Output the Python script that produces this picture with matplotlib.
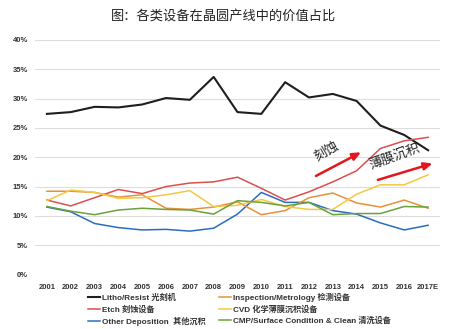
import matplotlib
matplotlib.use("Agg")
import matplotlib.pyplot as plt

years = ["2001", "2002", "2003", "2004", "2005", "2006", "2007", "2008", "2009",
         "2010", "2011", "2012", "2013", "2014", "2015", "2016", "2017E"]

litho = [27.4, 27.7, 28.6, 28.5, 29.0, 30.1, 29.8, 33.7, 27.7, 27.4, 32.8, 30.2, 30.8, 29.6, 25.4, 23.8, 21.2]
etch = [12.7, 11.7, 13.1, 14.5, 13.8, 15.0, 15.6, 15.8, 16.6, 14.7, 12.7, 14.1, 15.8, 17.7, 21.5, 22.8, 23.4]
other_dep = [11.5, 10.7, 8.7, 8.0, 7.6, 7.7, 7.4, 7.9, 10.3, 14.0, 12.3, 12.3, 10.9, 10.3, 8.8, 7.6, 8.4]
inspection = [14.2, 14.2, 14.0, 13.2, 13.6, 11.3, 11.1, 11.5, 12.4, 10.2, 10.9, 13.1, 13.9, 12.2, 11.5, 12.7, 11.3]
cvd = [12.6, 14.4, 14.0, 13.0, 13.1, 13.6, 14.3, 11.6, 11.8, 12.8, 11.6, 11.1, 11.1, 13.7, 15.3, 15.3, 17.0]
cmp_clean = [11.6, 10.8, 10.2, 11.0, 11.3, 11.1, 11.0, 10.3, 12.6, 12.3, 11.7, 12.3, 10.2, 10.4, 10.4, 11.6, 11.5]

series = [
    ("Litho/Resist 光刻机", litho, "#1e1e1e", 1.5),
    ("Etch 刻蚀设备", etch, "#d9504e", 1.1),
    ("Other Deposition  其他沉积", other_dep, "#2c6cc0", 1.1),
    ("Inspection/Metrology 检测设备", inspection, "#e8913a", 1.1),
    ("CVD 化学薄膜沉积设备", cvd, "#f3c842", 1.1),
    ("CMP/Surface Condition & Clean 清洗设备", cmp_clean, "#68a33c", 1.1),
]

fams = ["Liberation Sans", "Noto Sans CJK SC", "DejaVu Sans"]
plt.rcParams["font.family"] = fams

fig = plt.figure(figsize=(4.5, 3.29), dpi=100)
ax = fig.add_axes([35/450, 1-274.5/329, 405/450, (274.5-40)/329])

x = list(range(len(years)))
for label, vals, color, lw in series:
    ax.plot(x, vals, color=color, lw=lw, label=label)

ax.set_xlim(-0.5, len(years) - 0.5)
ax.set_ylim(0, 40)
ax.set_yticks(range(0, 41, 5))
ax.set_yticklabels([f"{v}%" for v in range(0, 41, 5)])
ax.set_xticks(x)
ax.set_xticklabels(years)
ax.tick_params(length=0, labelsize=5.5, colors="#333333")
ax.tick_params(axis="y", pad=5)
ax.tick_params(axis="x", pad=7)
for t in ax.get_xticklabels() + ax.get_yticklabels():
    t.set_fontweight("bold")
ax.grid(axis="y", color="#dddddd", lw=0.8)
ax.set_axisbelow(True)
for s in ax.spines.values():
    s.set_visible(False)

# annotations
ax.annotate("", xy=(13.29, 21.07), xytext=(11.19, 16.59),
            arrowprops=dict(arrowstyle="-|>,head_length=0.5,head_width=0.22", color="#e3161b", lw=1.8))
ax.text(11.75, 21.1, "刻蚀", rotation=30, ha="center", va="center", fontsize=9.5, color="#222222")
ax.annotate("", xy=(16.30, 19.08), xytext=(13.78, 16.0),
            arrowprops=dict(arrowstyle="-|>,head_length=0.5,head_width=0.22", color="#e3161b", lw=1.8))
ax.text(14.62, 20.1, "薄膜沉积", rotation=20, ha="center", va="center", fontsize=9.5, color="#222222")

fig.text(0.497, 1-16/329, "图：各类设备在晶圆产线中的价值占比", ha="center", va="center",
         fontsize=9.5, color="#222222")

handles, labels = ax.get_legend_handles_labels()
leg = fig.legend(handles, labels, ncol=2, loc="upper left", bbox_to_anchor=(88/450, 1-292.5/329),
                 frameon=False, prop=dict(family=fams, size=5.9, weight="bold"),
                 handlelength=1.5, handletextpad=0.2, columnspacing=1.6, labelspacing=0.42,
                 borderpad=0, borderaxespad=0)
for t in leg.get_texts():
    t.set_color("#333333")

fig.savefig("out.png", dpi=100)
